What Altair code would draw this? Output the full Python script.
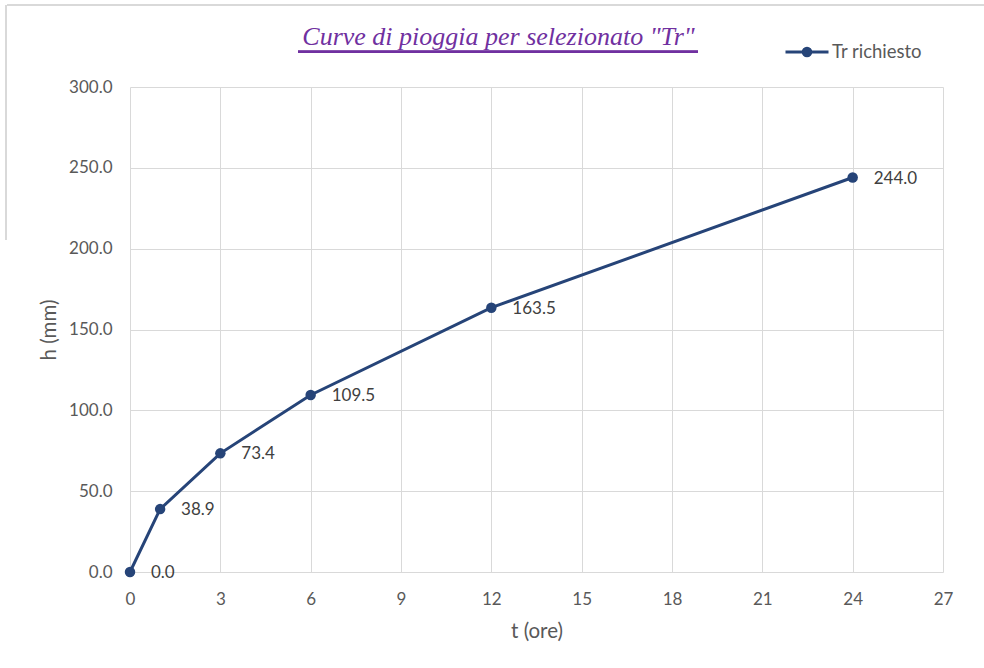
import altair as alt
import pandas as pd

# Rainfall depth-duration curve for the selected return period
durations = [0, 1, 3, 6, 12, 24]          # t (ore)
depths = [0.0, 38.9, 73.4, 109.5, 163.5, 244.0]  # h (mm)
series_name = "Tr richiesto"

x_ticks = [0, 3, 6, 9, 12, 15, 18, 21, 24, 27]
y_ticks = [0, 50, 100, 150, 200, 250, 300]

df = pd.DataFrame({"t": durations, "h": depths, "serie": series_name})

LINE = "#264478"
FONT = "Lato"
TXT = "#595959"
PLOT_W, PLOT_H = 813, 485

# legend glyph: a horizontal line with a dot in the middle
legend_glyph = (
    "M-1,0L1,0"
    "M0.177,0A0.177,0.177 0 1,1 -0.177,0A0.177,0.177 0 1,1 0.177,0"
    "M0.07,0A0.07,0.07 0 1,1 -0.07,0A0.07,0.07 0 1,1 0.07,0"
)

x_enc = alt.X(
    "t:Q",
    title="t (ore)",
    scale=alt.Scale(domain=[0, 27], nice=False, zero=True),
    axis=alt.Axis(values=x_ticks, format="d"),
)
y_enc = alt.Y(
    "h:Q",
    title="h (mm)",
    scale=alt.Scale(domain=[0, 300], nice=False),
    axis=alt.Axis(values=y_ticks, format=".1f"),
)

base = alt.Chart(df).encode(x=x_enc, y=y_enc)

line = base.mark_line(strokeWidth=3).encode(
    color=alt.Color(
        "serie:N",
        scale=alt.Scale(domain=[series_name], range=[LINE]),
        legend=alt.Legend(
            title=None,
            orient="none",
            legendX=654,
            legendY=-58,
            padding=0,
            symbolType=legend_glyph,
            symbolSize=1849,
            symbolStrokeWidth=3,
            symbolStrokeColor=LINE,
            labelOffset=2,
            labelFont=FONT,
            labelFontSize=18.5,
            labelColor=TXT,
        ),
    )
)

points = base.mark_circle(size=110, opacity=1, color=LINE)

labels = base.mark_text(
    align="left", baseline="middle", dx=21, dy=1,
    font=FONT, fontSize=17, color="#404040",
).encode(text=alt.Text("h:Q", format=".1f"))

# underline under the title
underline = alt.Chart(df).mark_rule(color="#7030A0", strokeWidth=2).encode(
    x=alt.value(168), x2=alt.value(568), y=alt.value(-35.3)
)

# thin outer frame of the chart area (top edge and upper part of left edge)
frame_top = alt.Chart(df).mark_rule(color="#d9d9d9", strokeWidth=1.5).encode(
    x=alt.value(-123), x2=alt.value(854), y=alt.value(-82)
)
frame_left = alt.Chart(df).mark_rule(color="#d9d9d9", strokeWidth=1.5).encode(
    x=alt.value(-124), y=alt.value(-82), y2=alt.value(153)
)

chart = (
    alt.layer(frame_top, frame_left, line, points, labels, underline)
    .properties(
        width=PLOT_W,
        height=PLOT_H,
        title=alt.TitleParams(
            text='Curve di pioggia per selezionato "Tr"',
            font="Liberation Serif",
            fontStyle="italic",
            fontWeight="normal",
            fontSize=26,
            color="#7030A0",
            anchor="middle",
            frame="group",
            baseline="alphabetic",
            dx=-38,
            dy=71,
            offset=4,
        ),
        autosize=alt.AutoSizeParams(type="none"),
        padding={"left": 130, "top": 87, "right": 41, "bottom": 96},
    )
    .configure_view(stroke=None)
    .configure_axis(
        grid=True,
        gridColor="#d9d9d9",
        gridWidth=1,
        domain=False,
        ticks=False,
        labelFlush=False,
        labelFont=FONT,
        labelFontSize=17,
        labelColor=TXT,
        titleFont=FONT,
        titleFontSize=20.5,
        titleFontWeight="normal",
        titleColor=TXT,
    )
    .configure_axisX(labelPadding=19, titlePadding=14)
    .configure_axisY(labelPadding=18, titlePadding=9)
)

chart.save("out.html", embed_options={"renderer": "svg", "actions": False})
